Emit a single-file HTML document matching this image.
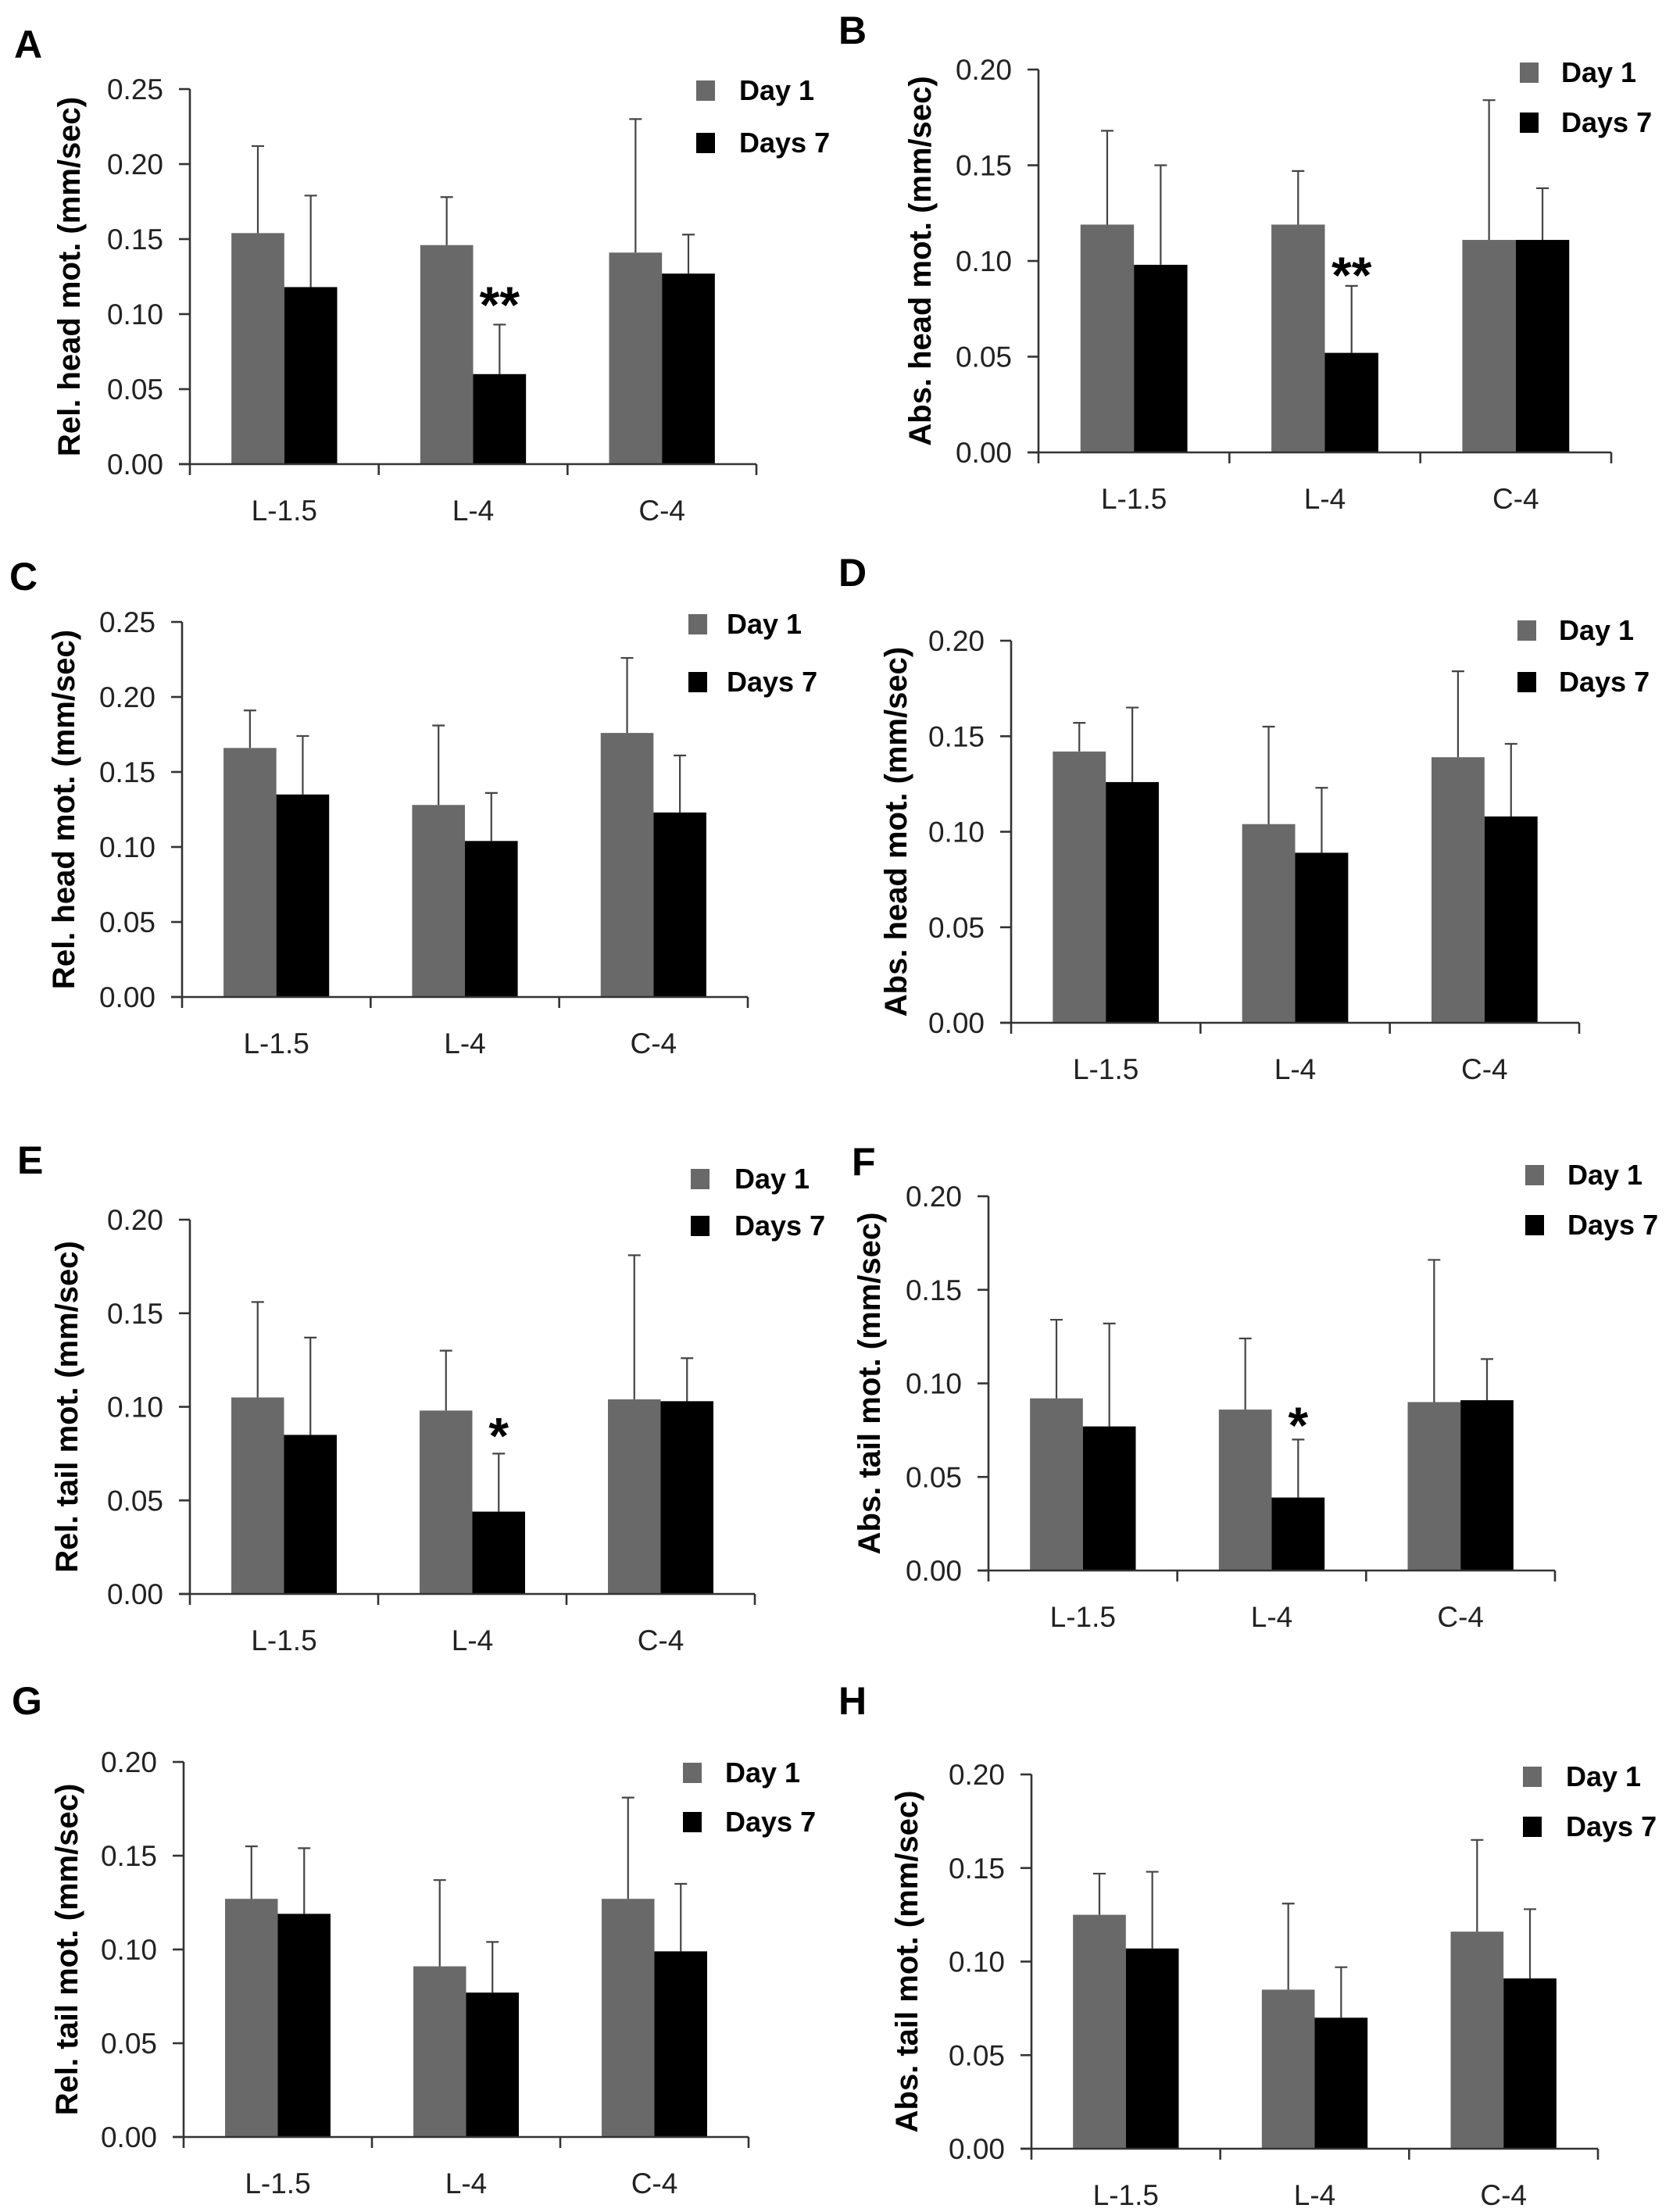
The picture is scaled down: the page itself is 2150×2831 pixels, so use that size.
<!DOCTYPE html>
<html><head><meta charset="utf-8">
<style>
html,body{margin:0;padding:0;background:#fff;}
svg{display:block;}
text{font-family:"Liberation Sans",sans-serif;}
</style></head>
<body>
<svg id="fig" xmlns="http://www.w3.org/2000/svg" width="2150" height="2831" viewBox="0 0 2150 2831"></svg>
<script>
const categories = ["L-1.5","L-4","C-4"];
const seriesNames = ["Day 1","Days 7"];
const ticks25 = [0,0.05,0.10,0.15,0.20,0.25];
const ticks20 = [0,0.05,0.10,0.15,0.20];

const day1_A = [0.154,0.146,0.141];
const day1Err_A = [0.212,0.178,0.230];
const day7_A = [0.118,0.060,0.127];
const day7Err_A = [0.179,0.093,0.153];
const star_A = ["","**",""];
const starVal_A = [0,0.113,0];

const day1_B = [0.119,0.119,0.111];
const day1Err_B = [0.168,0.147,0.184];
const day7_B = [0.098,0.052,0.111];
const day7Err_B = [0.150,0.087,0.138];
const star_B = ["","**",""];
const starVal_B = [0,0.098,0];

const day1_C = [0.166,0.128,0.176];
const day1Err_C = [0.191,0.181,0.226];
const day7_C = [0.135,0.104,0.123];
const day7Err_C = [0.174,0.136,0.161];

const day1_D = [0.142,0.104,0.139];
const day1Err_D = [0.157,0.155,0.184];
const day7_D = [0.126,0.089,0.108];
const day7Err_D = [0.165,0.123,0.146];

const day1_E = [0.105,0.098,0.104];
const day1Err_E = [0.156,0.130,0.181];
const day7_E = [0.085,0.044,0.103];
const day7Err_E = [0.137,0.075,0.126];
const star_E = ["","*",""];
const starVal_E = [0,0.090,0];

const day1_F = [0.092,0.086,0.090];
const day1Err_F = [0.134,0.124,0.166];
const day7_F = [0.077,0.039,0.091];
const day7Err_F = [0.132,0.070,0.113];
const star_F = ["","*",""];
const starVal_F = [0,0.083,0];

const day1_G = [0.127,0.091,0.127];
const day1Err_G = [0.155,0.137,0.181];
const day7_G = [0.119,0.077,0.099];
const day7Err_G = [0.154,0.104,0.135];

const day1_H = [0.125,0.085,0.116];
const day1Err_H = [0.147,0.131,0.165];
const day7_H = [0.107,0.070,0.091];
const day7Err_H = [0.148,0.097,0.128];

const NS = "http://www.w3.org/2000/svg";
const svg = document.getElementById("fig");
function mk(tag, attrs, parent){
  const e = document.createElementNS(NS, tag);
  for (const k in attrs) e.setAttribute(k, attrs[k]);
  (parent||svg).appendChild(e);
  return e;
}

const panels = [
 {id:"a", letter:"A", lx:18, ly:74, ax:243, y0:594, yTop:114, ticks:ticks25, xEnd:968, title:"Rel. head mot. (mm/sec)", tx:89,
  lgx:891, lgy1:103, lgy2:170, ltx:946, d1:day1_A, e1:day1Err_A, d7:day7_A, e7:day7Err_A, st:star_A, sv:starVal_A},
 {id:"b", letter:"B", lx:1073, ly:56, ax:1329, y0:579, yTop:89, ticks:ticks20, xEnd:2062, title:"Abs. head mot. (mm/sec)", tx:1178,
  lgx:1945, lgy1:80, lgy2:144, ltx:1998, d1:day1_B, e1:day1Err_B, d7:day7_B, e7:day7Err_B, st:star_B, sv:starVal_B},
 {id:"c", letter:"C", lx:12, ly:755, ax:233, y0:1276, yTop:796, ticks:ticks25, xEnd:957, title:"Rel. head mot. (mm/sec)", tx:82,
  lgx:881, lgy1:786, lgy2:860, ltx:930, d1:day1_C, e1:day1Err_C, d7:day7_C, e7:day7Err_C},
 {id:"d", letter:"D", lx:1073, ly:750, ax:1294, y0:1309, yTop:820, ticks:ticks20, xEnd:2021, title:"Abs. head mot. (mm/sec)", tx:1147,
  lgx:1942, lgy1:794, lgy2:860, ltx:1995, d1:day1_D, e1:day1Err_D, d7:day7_D, e7:day7Err_D},
 {id:"e", letter:"E", lx:22, ly:1502, ax:243, y0:2040, yTop:1561, ticks:ticks20, xEnd:966, title:"Rel. tail mot. (mm/sec)", tx:86,
  lgx:884, lgy1:1496, lgy2:1556, ltx:940, d1:day1_E, e1:day1Err_E, d7:day7_E, e7:day7Err_E, st:star_E, sv:starVal_E},
 {id:"f", letter:"F", lx:1090, ly:1504, ax:1265, y0:2010, yTop:1531, ticks:ticks20, xEnd:1990, title:"Abs. tail mot. (mm/sec)", tx:1113,
  lgx:1952, lgy1:1491, lgy2:1555, ltx:2006, d1:day1_F, e1:day1Err_F, d7:day7_F, e7:day7Err_F, st:star_F, sv:starVal_F},
 {id:"g", letter:"G", lx:15, ly:2194, ax:235, y0:2735, yTop:2255, ticks:ticks20, xEnd:958, title:"Rel. tail mot. (mm/sec)", tx:86,
  lgx:874, lgy1:2256, lgy2:2319, ltx:928, d1:day1_G, e1:day1Err_G, d7:day7_G, e7:day7Err_G},
 {id:"h", letter:"H", lx:1073, ly:2194, ax:1320, y0:2750, yTop:2271, ticks:ticks20, xEnd:2045, title:"Abs. tail mot. (mm/sec)", tx:1161,
  lgx:1949, lgy1:2261, lgy2:2325, ltx:2004, d1:day1_H, e1:day1Err_H, d7:day7_H, e7:day7Err_H}
];

panels.forEach(p => {
  const g = mk("g", {});
  
  
  const maxV = p.ticks[p.ticks.length-1];
  const yS = v => p.y0 - (v / maxV) * (p.y0 - p.yTop);
  const catW = (p.xEnd - p.ax) / categories.length;
  const barW = catW * 0.28;
  const xC = i => p.ax + catW * (i + 0.5);

  const L = mk("text", {x:p.lx, y:p.ly, "font-size":50, "font-weight":"bold", fill:"#000"}, g);
  L.textContent = p.letter;
  
  

  [[p.d1,p.e1,"#696969",-1],[p.d7,p.e7,"#000000",0]].forEach((s,si) => {
    s[0].forEach((v,i) => {
      const x = xC(i) + s[3]*barW;
      const r = mk("rect", {x:x, y:yS(v), width:barW, height:p.y0-yS(v), fill:s[2]}, g);
      
      
      const ex = x + barW/2;
      const eb = mk("path", {d:`M${ex},${yS(v)}V${yS(s[1][i])}M${ex-8},${yS(s[1][i])}H${ex+8}`, stroke:"#444", "stroke-width":2.2, fill:"none"}, g);
      
      
    });
  });

  const yAx = mk("line", {x1:p.ax, y1:p.yTop, x2:p.ax, y2:p.y0+14, stroke:"#333", "stroke-width":2.6}, g);
  
  
  const xAx = mk("line", {x1:p.ax-14, y1:p.y0, x2:p.xEnd, y2:p.y0, stroke:"#333", "stroke-width":2.6}, g);
  
  

  p.ticks.forEach(t => {
    mk("line", {x1:p.ax-14, y1:yS(t), x2:p.ax, y2:yS(t), stroke:"#333", "stroke-width":2.6}, g);
    const tl = mk("text", {x:p.ax-34, y:yS(t)+13, "font-size":37, "text-anchor":"end", fill:"#222"}, g);
    tl.textContent = t.toFixed(2);
    
    
  });
  for (let i=1;i<=categories.length;i++){
    mk("line", {x1:p.ax+catW*i, y1:p.y0, x2:p.ax+catW*i, y2:p.y0+14, stroke:"#333", "stroke-width":2.6}, g);
  }
  categories.forEach((c,i) => {
    const xl = mk("text", {x:xC(i), y:p.y0+72, "font-size":37, "text-anchor":"middle", fill:"#222"}, g);
    xl.textContent = c;
    
    
  });

  if (p.st) {
    p.st.forEach((s,i) => {
      if (!s) return;
      const st = mk("text", {x:xC(i)+barW/2, y:yS(p.sv[i])+36, "font-size":66, "font-weight":"bold", "text-anchor":"middle", fill:"#000"}, g);
      st.textContent = s;
      
      
    });
  }

  const cy = (p.yTop + p.y0) / 2;
  const yt = mk("text", {x:p.tx, y:cy, "font-size":40, "font-weight":"bold", "text-anchor":"middle", "dominant-baseline":"central", transform:`rotate(-90 ${p.tx} ${cy})`, fill:"#000"}, g);
  yt.textContent = p.title;
  
  

  [[p.lgy1,"#696969",seriesNames[0]],[p.lgy2,"#000",seriesNames[1]]].forEach((l,li) => {
    const lg = mk("g", {}, g);
    
    
    mk("rect", {x:p.lgx, y:l[0], width:24, height:26, fill:l[1]}, lg);
    const lt = mk("text", {x:p.ltx, y:l[0]+25, "font-size":36, "font-weight":"bold", fill:"#000"}, lg);
    lt.textContent = l[2];
  });
});
</script>
</body></html>
